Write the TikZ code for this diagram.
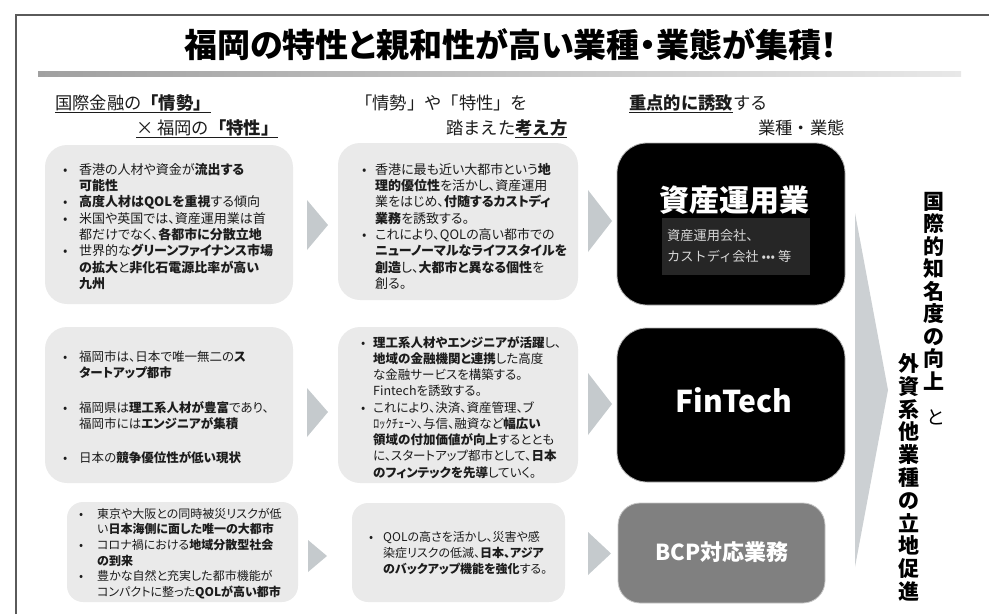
\documentclass[tikz,border=0pt]{standalone}
\usepackage{fontspec}
\setmainfont{Noto Sans CJK JP}[RawFeature=+palt]
\newfontfamily\jpfull{Noto Sans CJK JP}
\usetikzlibrary{calc}
\definecolor{boxgray}{RGB}{234,234,234}
\definecolor{chev}{RGB}{197,202,205}
\definecolor{chevbig}{RGB}{204,208,211}
\definecolor{txt}{RGB}{28,28,28}
\definecolor{darkin}{RGB}{38,38,38}
\definecolor{bcpgray}{RGB}{128,128,128}
\definecolor{framec}{RGB}{90,90,90}
\newcommand\bl[1]{\makebox[#1][l]{•}}
\newcommand\ct[1]{\hspace*{#1}}
\newcommand\fsz[2]{\fontsize{#1}{#2}\selectfont}
\tikzset{
  lbox/.style={fill=boxgray, draw=none, rounded corners=22pt, inner sep=0},
  sbox/.style={fill=boxgray, draw=none, rounded corners=16pt, inner sep=0},
  rbox/.style={fill=black, draw=gray!60, line width=0.8pt, rounded corners=30pt, inner sep=0},
  btxt/.style={anchor=north west, inner sep=0, align=left, text=txt},
  hdr/.style={anchor=base west, inner sep=0, text=txt, font=\jpfull\fsz{17.3}{19}},
  chevron/.style={fill=chev, draw=none},
  vtxt/.style={inner sep=0, align=center, text=black, font=\bfseries\fsz{21}{22.5}}
}
\begin{document}
\begin{tikzpicture}[x=1pt,y=-1pt]
\useasboundingbox (0,0) rectangle (989,614);
% frame
\draw[framec, line width=1.3pt] (16,614) -- (16,15) -- (989,15);
% title
\node[inner sep=0, text=black, font=\bfseries\fsz{33}{36}] (title) at (511,45) {福岡の特性と親和性が高い業種・業態が集積！};
\shade[left color={rgb,255:red,160;green,160;blue,160}, right color={rgb,255:red,232;green,232;blue,232}] (38,71) rectangle (961,76);
% headers
\node[hdr] (h1) at (55,109) {\underline{国際金融の\textbf{「情勢」}}};
\node[hdr] (h2) at (136,134) {\underline{× 福岡の\textbf{「特性」}}};
\node[hdr] (h3) at (355,109) {「情勢」や「特性」を};
\node[hdr] (h4) at (446,134) {踏まえた\underline{\textbf{考え方}}};
\node[hdr] (h5) at (629,109) {\underline{\textbf{重点的に誘致}}する};
\node[hdr] (h6) at (758,134) {業種・業態};
% left boxes
\node[lbox, minimum width=248pt, minimum height=159pt] (l1) at (169,224.5) {};
\node[lbox, minimum width=248pt, minimum height=156pt] (l2) at (169,405) {};
\node[sbox, minimum width=231pt, minimum height=100pt] (l3) at (182.5,552) {};
% middle boxes
\node[lbox, minimum width=240pt, minimum height=157pt] (m1) at (458,221.5) {};
\node[lbox, minimum width=240pt, minimum height=156pt] (m2) at (458,405) {};
\node[sbox, minimum width=213pt, minimum height=99pt] (m3) at (458.5,552.5) {};
% right boxes
\node[rbox, minimum width=228pt, minimum height=162pt] (r1) at (731,224) {};
\node[rbox, minimum width=228pt, minimum height=154pt] (r2) at (731,405) {};
\node[rbox, fill=bcpgray, draw=gray!45, rounded corners=22pt, minimum width=207pt, minimum height=100pt] (r3) at (721.5,553) {};
% chevrons left -> middle
\fill[chevron] (307,200) -- (328,225) -- (307,250) -- cycle;
\fill[chevron] (307,388) -- (328,412) -- (307,437) -- cycle;
\fill[chevron] (308,540) -- (327,556) -- (308,572) -- cycle;
% chevrons middle -> right
\fill[chevron] (588,190) -- (612,221) -- (588,252) -- cycle;
\fill[chevron] (588,373) -- (612,404) -- (588,435) -- cycle;
\fill[chevron] (588,532) -- (611,553.5) -- (588,575) -- cycle;
% big arrow
\fill[chevbig] (855,213) -- (888,390) -- (855,567) -- cycle;
% left texts
\node[btxt, font=\fsz{13}{16.3}] (tl1) at (63,163) {%
\bl{16pt}香港の人材や資金が\textbf{流出する}\\
\ct{16pt}\textbf{可能性}\\
\bl{16pt}\textbf{高度人材はQOLを重視}する傾向\\
\bl{16pt}米国や英国では、資産運用業は首\\
\ct{16pt}都だけでなく、\textbf{各都市に分散立地}\\
\bl{16pt}世界的な\textbf{グリーンファイナンス市場}\\
\ct{16pt}\textbf{の拡大}と\textbf{非化石電源比率が高い}\\
\ct{16pt}\textbf{九州}};
\node[btxt, font=\fsz{12.5}{16}] (tl2) at (63,351) {%
\bl{16pt}福岡市は、日本で唯一無二の\textbf{ス}\\
\ct{16pt}\textbf{タートアップ都市}\\[19pt]
\bl{16pt}福岡県は\textbf{理工系人材が豊富}であり、\\
\ct{16pt}福岡市には\textbf{エンジニアが集積}\\[18pt]
\bl{16pt}日本の\textbf{競争優位性が低い現状}};
\node[btxt, font=\fsz{12}{15.6}] (tl3) at (79,508) {%
\bl{18pt}東京や大阪との同時被災リスクが低\\
\ct{18pt}い\textbf{日本海側に面した唯一の大都市}\\
\bl{18pt}コロナ禍における\textbf{地域分散型社会}\\
\ct{18pt}\textbf{の到来}\\
\bl{18pt}豊かな自然と充実した都市機能が\\
\ct{18pt}コンパクトに整った\textbf{QOLが高い都市}};
% middle texts
\node[btxt, font=\fsz{13}{16.3}] (tm1) at (362,163) {%
\bl{13pt}香港に最も近い大都市という\textbf{地}\\
\ct{13pt}\textbf{理的優位性}を活かし、資産運用\\
\ct{13pt}業をはじめ、\textbf{付随するカストディ}\\
\ct{13pt}\textbf{業務}を誘致する。\\
\bl{13pt}これにより、QOLの高い都市での\\
\ct{13pt}\textbf{ニューノーマルなライフスタイルを}\\
\ct{13pt}\textbf{創造}し、\textbf{大都市と異なる個性}を\\
\ct{13pt}創る。};
\node[btxt, font=\fsz{12.5}{16.25}] (tm2) at (361,336) {%
\bl{12pt}\textbf{理工系人材やエンジニアが活躍}し、\\
\ct{12pt}\textbf{地域の金融機関と連携}した高度\\
\ct{12pt}な金融サービスを構築する。\\
\ct{12pt}Fintechを誘致する。\\
\bl{12pt}これにより、決済、資産管理、ブ\\
\ct{12pt}ﾛｯｸﾁｪｰﾝ、与信、融資など\textbf{幅広い}\\
\ct{12pt}\textbf{領域の付加価値が向上}するととも\\
\ct{12pt}に、スタートアップ都市として、\textbf{日本}\\
\ct{12pt}\textbf{のフィンテックを先導}していく。};
\node[btxt, font=\fsz{12}{16}] (tm3) at (369,531) {%
\bl{14pt}QOLの高さを活かし、災害や感\\
\ct{14pt}染症リスクの低減、\textbf{日本、アジア}\\
\ct{14pt}\textbf{のバックアップ機能を強化}する。};
% right texts
\node[inner sep=0, text=white, font=\bfseries\fsz{30}{32}] (tr1) at (734,200) {資産運用業};
\node[fill=darkin, inner sep=0, minimum width=148pt, minimum height=57pt] (in1) at (736,246.5) {};
\node[btxt, text={rgb,255:red,215;green,215;blue,215}, font=\jpfull\fsz{13.2}{21}] (tin) at (667,229.5) {資産運用会社、\\カストディ会社 ••• 等};
\node[inner sep=0, text=white, font=\bfseries\fsz{30}{32}] (tr2) at (734,400) {FinTech};
\node[inner sep=0, text=white, font=\bfseries\fsz{22}{24}] (tr3) at (722,552) {BCP対応業務};
% vertical texts
\node[vtxt] (v1) at (934,291) {国\\際\\的\\知\\名\\度\\の\\向\\上};
\node[vtxt, font=\bfseries\fsz{21}{22.8}] (v2) at (909,477.5) {外\\資\\系\\他\\業\\種\\の\\立\\地\\促\\進};
\node[inner sep=0, text=black, font=\fsz{19}{20}] (v3) at (935,417) {と};
\end{tikzpicture}
\end{document}
